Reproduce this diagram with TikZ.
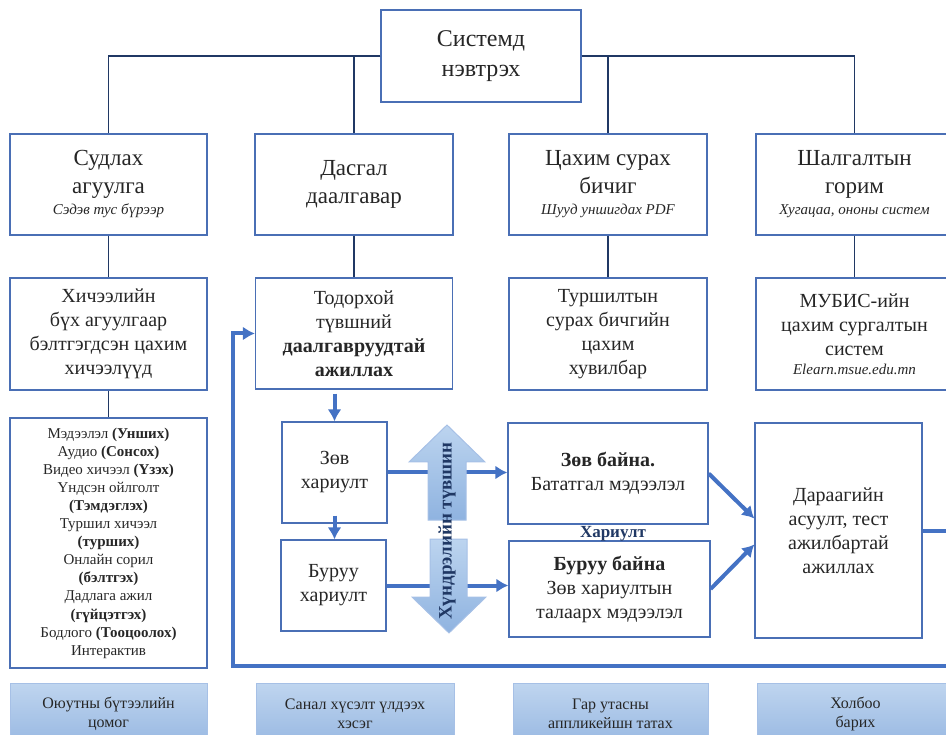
\documentclass[tikz,border=0pt]{standalone}
\usepackage{fontspec}
\setmainfont{Liberation Serif}
\usepackage{tikz}
\usetikzlibrary{arrows.meta}
\definecolor{boxblue}{HTML}{4A6FB5}
\definecolor{navy}{HTML}{203864}
\definecolor{arrblue}{HTML}{4472C4}
\definecolor{txt}{HTML}{262626}
\definecolor{linkedge}{HTML}{A6C0E6}
\definecolor{linktop}{HTML}{BFD5EF}
\definecolor{linkbot}{HTML}{98B8E2}
\definecolor{lvtop}{HTML}{BCD4EF}
\definecolor{lvbot}{HTML}{8FB3E0}
\newcommand\ftop{\fontsize{24}{30}\selectfont}
\newcommand\fhead{\fontsize{23}{28}\selectfont}
\newcommand\fsub{\fontsize{15}{18}\selectfont\itshape}
\newcommand\fmid{\fontsize{20}{24}\selectfont}
\newcommand\flist{\fontsize{15}{18.1}\selectfont}
\newcommand\fbot{\fontsize{16}{19}\selectfont}
\tikzset{>=latex}
\tikzstyle{box} = [rectangle, draw=boxblue, line width=1.3pt, align=center, text=txt, inner sep=2pt]
\tikzstyle{tree} = [-, draw=navy, line width=1.8pt]
\tikzstyle{flow} = [-{Latex[length=12pt, width=14pt]}, draw=arrblue, line width=4pt]
\tikzstyle{link} = [rectangle, draw=linkedge, line width=1pt, top color=linktop, bottom color=linkbot, align=center, text=txt, font=\fbot, minimum height=62pt]
\tikzstyle{lvarrow} = [draw=linkedge, line width=1pt, top color=lvtop, bottom color=lvbot]

\begin{document}
\begin{tikzpicture}[x=1pt, y=-1pt]
\useasboundingbox (0,0) rectangle (946,735);
\clip (0,0) rectangle (946,735);
% top
\node [box, minimum width=200pt, minimum height=92pt, font=\ftop] (sys) at (481, 56) {Системд\\нэвтрэх};
% first row
\node [box, minimum width=197pt, minimum height=101pt, font=\fhead] (study) at (108.5, 184.5) {Судлах\\агуулга\\[-7pt]{\fsub Сэдэв тус бүрээр}};
\node [box, minimum width=198pt, minimum height=101pt, font=\fhead] (task) at (354, 184.5) {Дасгал\\даалгавар};
\node [box, minimum width=198pt, minimum height=101pt, font=\fhead] (book) at (608, 184.5) {Цахим сурах\\бичиг\\[-7pt]{\fsub Шууд уншигдах PDF}};
\node [box, minimum width=197pt, minimum height=101pt, font=\fhead] (exam) at (854.5, 184.5) {Шалгалтын\\горим\\[-7pt]{\fsub Хугацаа, ононы систем}};
% second row
\node [box, minimum width=197pt, minimum height=112pt, font=\fmid] (lesson) at (108.5, 334) {Хичээлийн\\бүх агуулгаар\\бэлтгэгдсэн цахим\\хичээлүүд};
\node [box, minimum width=197pt, minimum height=111pt, font=\fmid] (tasks) at (354, 333.5) {Тодорхой\\түвшний\\\textbf{даалгавруудтай}\\\textbf{ажиллах}};
\node [box, minimum width=198pt, minimum height=112pt, font=\fmid] (ebook) at (608, 334) {Туршилтын\\сурах бичгийн\\цахим\\хувилбар};
\node [box, minimum width=197pt, minimum height=112pt, font=\fmid] (lms) at (854.5, 334) {МУБИС-ийн\\цахим сургалтын\\систем\\[-5pt]{\fsub Elearn.msue.edu.mn}};
\node [box, minimum width=197pt, minimum height=250pt, font=\flist] (list) at (108.5, 543) {Мэдээлэл \textbf{(Унших)}\\Аудио \textbf{(Сонсох)}\\Видео хичээл \textbf{(Үзэх)}\\Үндсэн ойлголт\\\textbf{(Тэмдэглэх)}\\Туршил хичээл\\\textbf{(турших)}\\Онлайн сорил\\\textbf{(бэлтгэх)}\\Дадлага ажил\\\textbf{(гүйцэтгэх)}\\Бодлого \textbf{(Тооцоолох)}\\Интерактив};
% answers
\node [box, minimum width=105pt, minimum height=101pt, font=\fmid] (right) at (334.5, 472.5) {Зөв\\хариулт};
\node [box, minimum width=105pt, minimum height=91pt, font=\fmid] (wrong) at (333.5, 585.5) {Буруу\\хариулт};
\node [box, minimum width=200pt, minimum height=101pt, font=\fmid] (rightmsg) at (608, 473.5) {\textbf{Зөв байна.}\\Бататгал мэдээлэл};
\node [box, minimum width=201pt, minimum height=96pt, font=\fmid] (wrongmsg) at (609.5, 589) {\textbf{Буруу байна}\\Зөв хариултын\\талаарх мэдээлэл};
\node [box, minimum width=167pt, minimum height=215pt, font=\fmid] (next) at (838.5, 530.5) {Дараагийн\\асуулт, тест\\ажилбартай\\ажиллах};
\node [text=navy, font=\fontsize{17}{20}\selectfont\bfseries] (answer) at (613, 534) {Хариулт};
% bottom row
\node [link, minimum width=197pt] (album) at (108.5, 714) {Оюутны бүтээлийн\\цомог};
\node [link, minimum width=198pt] (feedback) at (355, 714) {Санал хүсэлт үлдээх\\хэсэг};
\node [link, minimum width=195pt] (app) at (610.5, 714) {Гар утасны\\аппликейшн татах};
\node [link, minimum width=197pt] (contact) at (855.5, 714) {Холбоо\\барих};
% tree
\draw [tree] (sys.west) -| (study.north);
\draw [tree] (sys.west) -| (task.north);
\draw [tree] (sys.east) -| (book.north);
\draw [tree] (sys.east) -| (exam.north);
\foreach \a/\b in {study/lesson, task/tasks, book/ebook, exam/lms, lesson/list}
  \draw [tree] (\a.south) -- (\b.north);
% flow
\coordinate (loopR) at (965, 666);
\coordinate (loopL) at (233, 666);
\draw [flow, shorten <=4pt] (right.north |- tasks.south) -- (right.north);
\draw [flow, shorten <=-8pt] (right.south) -- (right.south |- wrong.north);
\draw [flow] (right.east) -- (right.east -| rightmsg.west);
\draw [flow] (wrong.east) -- (wrong.east -| wrongmsg.west);
\draw [flow] (rightmsg.east) -- ([yshift=12pt]next.west);
\draw [flow] (wrongmsg.east) -- ([yshift=-14pt]next.west);
\draw [flow] (next.east) -| (loopR) -- (loopL) |- (tasks.west);
% difficulty arrows
\path [lvarrow] (447,425) -- (485,462) -- (466,462) -- (466,520) -- (428,520) -- (428,462) -- (409,462) -- cycle;
\path [lvarrow] (430,539) -- (467,539) -- (467,597) -- (486,597) -- (449,633) -- (412,597) -- (430,597) -- cycle;
\node [rotate=90, text=navy, font=\fontsize{19}{21}\selectfont\bfseries] (level) at (447, 531) {Хүндрэлийн түвшин};
\end{tikzpicture}
\end{document}
